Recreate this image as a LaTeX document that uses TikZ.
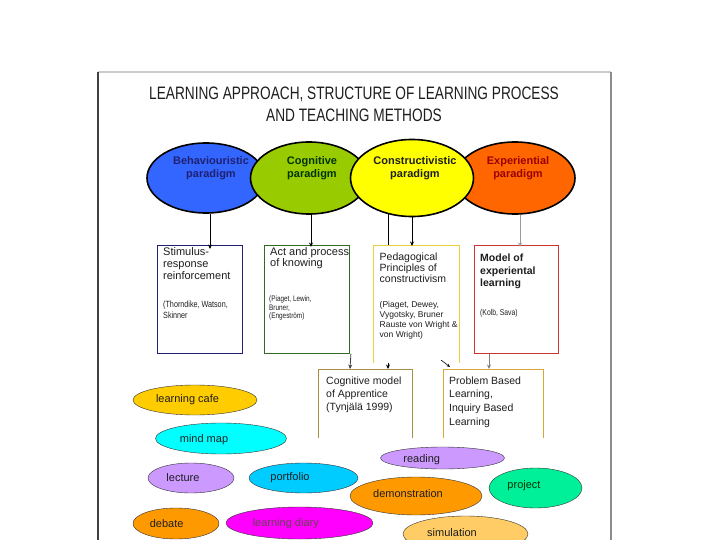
\documentclass[tikz,border=0pt]{standalone}
\usepackage{fontspec}
\setmainfont{Liberation Sans}
\newfontfamily\titlefont[FakeStretch=0.76]{Liberation Sans}
\newfontfamily\narrowfont[FakeStretch=0.8]{Liberation Sans}
\usetikzlibrary{shapes.geometric,arrows.meta,calc}
\definecolor{bluefill}{HTML}{3366FF}
\definecolor{greenfill}{HTML}{99CC00}
\definecolor{yellowfill}{HTML}{FFFF00}
\definecolor{orangefill}{HTML}{FF6600}
\definecolor{navyline}{HTML}{202070}
\definecolor{greenline}{HTML}{2F6B22}
\definecolor{yellowline}{HTML}{E8D040}
\definecolor{redline}{HTML}{CC3333}
\definecolor{oliveline}{HTML}{A89040}
\definecolor{goldline}{HTML}{D8A838}
\definecolor{cafe}{HTML}{FFCC00}
\definecolor{mindmap}{HTML}{00FFFF}
\definecolor{lavender}{HTML}{CC99FF}
\definecolor{portfolio}{HTML}{00CCFF}
\definecolor{orangeb}{HTML}{FF9900}
\definecolor{magentab}{HTML}{FF00FF}
\definecolor{mint}{HTML}{00F099}
\definecolor{simul}{HTML}{FFCC66}
\definecolor{textdark}{HTML}{1E1E1E}
\begin{document}
\begin{tikzpicture}[x=1pt,y=-1pt,
  topell/.style={ellipse,draw=black,line width=1.6pt,inner sep=0pt},
  etext/.style={anchor=north,align=center,inner sep=0pt,
    font=\bfseries\fontsize{11}{13.3}\selectfont},
  boxst/.style={rectangle,anchor=north west,inner sep=0pt,line width=0.9pt},
  btext/.style={anchor=north west,align=left,inner sep=0pt,text=textdark},
  cite/.style={anchor=north west,align=left,inner sep=0pt,text=textdark,
    font=\narrowfont\fontsize{8.5}{10.5}\selectfont},
  arr/.style={line width=0.8pt,-{Stealth[length=4.5pt,width=4pt]}},
  plain/.style={line width=0.8pt},
  botell/.style={ellipse,draw=black!80,line width=0.4pt,inner sep=0pt},
  bltext/.style={inner sep=0pt,text=textdark,font=\fontsize{11}{13}\selectfont},
  frameline/.style={line width=1.2pt}
]
\useasboundingbox (0,0) rectangle (720,540);
\fill[white] (0,0) rectangle (720,540);

% frame of the slide picture
\draw[frameline,black!20] (98,72) -- (611,72);
\draw[frameline,black!45] (611,72) -- (611,540);
\draw[frameline,black!75] (98,72) -- (98,540);

% title
\node[anchor=north,align=center,inner sep=0pt,text=textdark,
  font=\titlefont\fontsize{18}{22.4}\selectfont] (title) at (354,86.4)
  {LEARNING APPROACH, STRUCTURE OF LEARNING PROCESS\\AND TEACHING METHODS};

% paradigm ellipses
\node[topell,fill=bluefill,minimum width=118pt,minimum height=70pt] (e1) at (206,178) {};
\node[topell,fill=greenfill,minimum width=117pt,minimum height=72pt] (e2) at (309,178) {};
\node[topell,fill=orangefill,minimum width=120pt,minimum height=72pt] (e4) at (515,178) {};
\node[topell,fill=yellowfill,minimum width=123pt,minimum height=77pt] (e3) at (412,178) {};

\node[etext,text=navyline] (l1) at (211,156) {Behaviouristic\\paradigm};
\node[etext,text=black!80!green] (l2) at (312,156) {Cognitive\\paradigm};
\node[etext,text=textdark] (l3) at (415,156) {Constructivistic\\paradigm};
\node[etext,text=black!40!red] (l4) at (518,156) {Experiential\\paradigm};

% first row of boxes
\node[boxst,draw=navyline,minimum width=85pt,minimum height=108pt] (b1) at (157,245) {};
\node[boxst,draw=greenline,minimum width=85pt,minimum height=108pt] (b2) at (264,245) {};
\node[boxst,minimum width=86pt,minimum height=117pt] (b3) at (373,245) {};
\draw[yellowline,line width=1pt] (b3.south west) -- (b3.north west) -- (b3.north east) -- (b3.south east);
\node[boxst,draw=redline,minimum width=84pt,minimum height=108pt] (b4) at (474,245) {};

\node[btext,font=\fontsize{11}{11.8}\selectfont] (t1) at (163,247.5)
  {Stimulus-\\response\\reinforcement};
\node[cite,font=\narrowfont\fontsize{9}{11}\selectfont] (c1t) at (163,300.5) {(Thorndike, Watson,\\Skinner};

\node[btext,font=\fontsize{11}{11.8}\selectfont] (t2) at (270,246.9)
  {Act and process\\of knowing};
\node[cite,font=\narrowfont\fontsize{8}{8.3}\selectfont] (c2t) at (269,295.8)
  {(Piaget, Lewin,\\Bruner,\\(Engeström)};

\node[btext,font=\fontsize{10.5}{11}\selectfont] (t3) at (379.5,252.4)
  {Pedagogical\\Principles of\\constructivism};
\node[cite,font=\fontsize{8.5}{9.7}\selectfont] (c3t) at (379.5,301.6)
  {(Piaget, Dewey,\\Vygotsky, Bruner\\Rauste von Wright \&\\von Wright)};

\node[btext,font=\bfseries\fontsize{10.5}{12.5}\selectfont] (t4) at (480,254)
  {Model of\\experiental\\learning};
\node[cite] (c4t) at (480,309) {(Kolb, Sava)};

% second row of boxes (open at the bottom)
\node[boxst,minimum width=94pt,minimum height=68pt] (c1) at (318,369) {};
\draw[oliveline,line width=0.9pt] (c1.south west) -- (c1.north west) -- (c1.north east) -- (c1.south east);
\node[boxst,minimum width=100pt,minimum height=68pt] (c2) at (443,369) {};
\draw[goldline,line width=0.9pt] (c2.south west) -- (c2.north west) -- (c2.north east) -- (c2.south east);

\node[btext,font=\fontsize{10.5}{13.3}\selectfont] (t5) at (326,376.4)
  {Cognitive model\\of Apprentice\\(Tynjälä 1999)};
\node[btext,font=\fontsize{10.5}{13.7}\selectfont] (t6) at (449,376.4)
  {Problem Based\\Learning,\\Inquiry Based\\Learning};

% connectors
\draw[arr] ($(e1.south)+(4,0)$) -- ($(b1.north west)+(53,4)$);
\draw[arr] ($(e2.south)+(2,0)$) -- ($(b2.north west)+(47,2)$);
\draw[plain] ($(e3.south)+(-24,-3)$) -- ($(b3.north west)+(15,0)$);
\draw[arr] ($(b3.south west)+(15,0)$) -- ($(c1.north west)+(70,0)$);
\draw[arr] (e3.south) -- ($(b3.north west)+(39,1)$);
\draw[arr,black!40] ($(e4.south)+(5,0)$) -- ($(b4.north west)+(46,2)$);
\draw[arr,black!75] ($(b2.south east)+(1,0)$) -- ($(c1.north west)+(32,0)$);
\draw[arr,black!50] ($(b4.south west)+(15,0)$) -- ($(c2.north west)+(46,0)$);
\coordinate (d0) at (441,360);
\draw[line width=0.6pt,-{Stealth[length=3.5pt,width=3pt]}] (d0) -- ($(c2.north west)+(7,-2)$);

% teaching methods
\node[botell,fill=cafe,minimum width=124pt,minimum height=30pt] (m1) at (195,400) {};
\node[bltext] (m1t) at (187.5,400) {learning cafe};
\node[botell,fill=mindmap,minimum width=131pt,minimum height=31pt] (m2) at (221,438.5) {};
\node[bltext] (m2t) at (204,439.5) {mind map};
\node[botell,fill=lavender,minimum width=86pt,minimum height=30pt] (m3) at (191,478) {};
\node[bltext] (m3t) at (183,477.7) {lecture};
\node[botell,fill=portfolio,minimum width=109pt,minimum height=30pt] (m4) at (303.5,478) {};
\node[bltext] (m4t) at (290,477.7) {portfolio};
\node[botell,fill=orangeb,minimum width=86pt,minimum height=31pt] (m5) at (176,523.5) {};
\node[bltext] (m5t) at (166.7,524) {debate};
\node[botell,fill=magentab,minimum width=147pt,minimum height=32pt] (m6) at (299.5,523) {};
\node[bltext,text=black!70!magenta] (m6t) at (285.8,524) {learning diary};
\node[botell,fill=lavender,minimum width=124pt,minimum height=22pt] (m7) at (442.5,458) {};
\node[bltext] (m7t) at (421.7,459.5) {reading};
\node[botell,fill=orangeb,minimum width=132pt,minimum height=38pt] (m8) at (416,496) {};
\node[bltext] (m8t) at (408,493.3) {demonstration};
\node[botell,fill=mint,minimum width=93pt,minimum height=40pt] (m9) at (535.5,488) {};
\node[bltext,text=black!80!green] (m9t) at (524,486) {project};
\node[botell,fill=simul,minimum width=125pt,minimum height=36pt] (m10) at (465.5,534) {};
\node[bltext] (m10t) at (452,532.7) {simulation};
\end{tikzpicture}
\end{document}
